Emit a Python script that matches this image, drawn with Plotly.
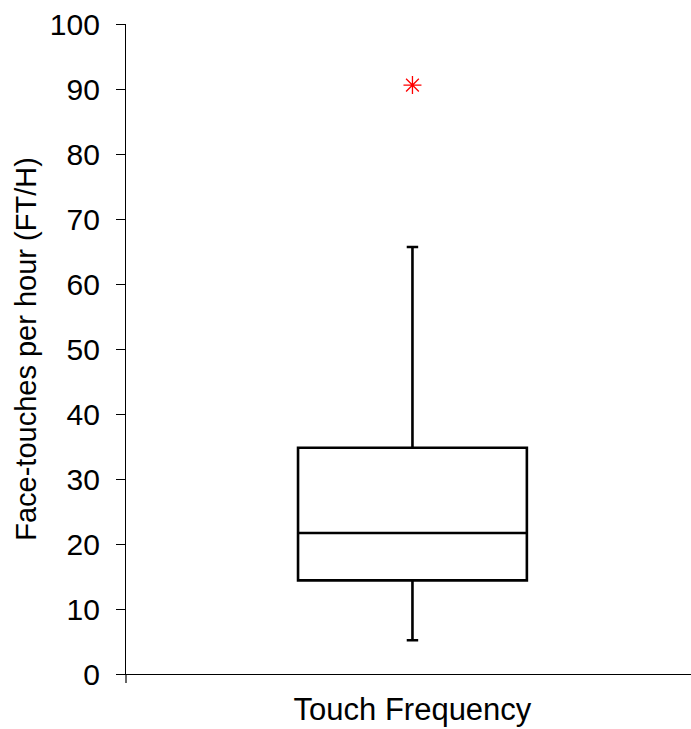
import plotly.graph_objects as go

category = ["Touch Frequency"]
q1 = [14.4]
median = [21.7]
q3 = [34.8]
lower_whisker = [5.2]
upper_whisker = [65.7]
outlier_y = [90.6]

y_ticks = list(range(0, 101, 10))

FONT = "Liberation Sans, Arial, sans-serif"

fig = go.Figure()
fig.add_trace(go.Box(
    x=category,
    q1=q1, median=median, q3=q3,
    lowerfence=lower_whisker, upperfence=upper_whisker,
    fillcolor="white",
    line=dict(color="black", width=2.6),
    whiskerwidth=0.05,
    width=0.405,
    boxpoints=False,
    showlegend=False,
))
fig.add_trace(go.Scatter(
    x=category, y=outlier_y, mode="markers",
    marker=dict(symbol="asterisk-open", size=15, color="red",
                line=dict(color="red", width=1.3)),
    showlegend=False,
))

fig.update_layout(
    width=691, height=729,
    margin=dict(l=126, r=0, t=24, b=55),
    paper_bgcolor="white", plot_bgcolor="white",
    font=dict(family=FONT, color="black", size=28),
)
fig.update_yaxes(
    range=[0, 100], tickvals=y_ticks, showgrid=False, zeroline=False,
    showline=True, linecolor="black", linewidth=1.2,
    ticks="outside", ticklen=9, tickwidth=1.2, tickcolor="black",
    tickfont=dict(size=30), ticklabelstandoff=10,
    title=dict(text="Face-touches per hour (FT/H)", font=dict(size=29), standoff=4),
)
fig.update_xaxes(
    type="category", range=[-0.507, 0.493], showgrid=False, zeroline=False,
    showline=True, linecolor="black", linewidth=1.2,
    ticks="", tickfont=dict(size=31), ticklabelstandoff=8,
)
fig.add_shape(type="line", xref="paper", yref="paper", x0=0, x1=0, y0=0, y1=-9/650,
              line=dict(color="black", width=1.2))

fig.write_html("out.html")
